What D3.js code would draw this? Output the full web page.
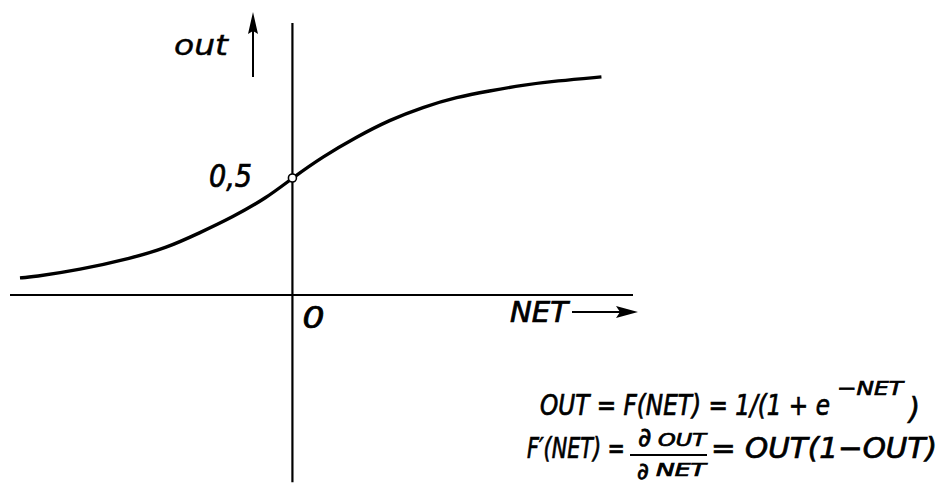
<!DOCTYPE html>
<html>
<head>
<meta charset="utf-8">
<script src="https://cdn.jsdelivr.net/npm/d3@7"></script>
<style>
  html, body { margin: 0; padding: 0; background: #fff; }
  svg { display: block; }
  text { font-family: "DejaVu Sans Condensed", "DejaVu Sans", sans-serif; font-style: italic; font-weight: normal; fill: #000; stroke: #000; stroke-width: 0.7px; }
</style>
</head>
<body>
<svg id="chart" width="949" height="485"></svg>
<script>
// ---- data ----
const netValues = [-3.28, -3.13, -2.57, -1.93, -1.52, -1.12, -0.72, -0.31, 0, 0.36, 0.77, 1.17, 1.57, 1.98, 2.37, 2.77, 3.18, 3.72];
const outValues = [0.073, 0.077, 0.107, 0.158, 0.201, 0.265, 0.333, 0.415, 0.5, 0.590, 0.675, 0.748, 0.803, 0.846, 0.872, 0.897, 0.915, 0.932];
const markedPoint = [0, 0.5];
const yTickLabels = ["0,5"];
const xTickLabels = ["0"];
const yAxisLabel = "out";
const xAxisLabel = "NET";
const netDomain = [-3.4, 4.1];
const outAxisExtent = [-0.8, 1.162];

const svg = d3.select("#chart");
const x = d3.scaleLinear().domain(netDomain).range([10, 633]);
const y = d3.scaleLinear().domain([0, 1]).range([295, 61]);

// axes
svg.append("line")
  .attr("x1", x(netDomain[0])).attr("x2", x(netDomain[1]))
  .attr("y1", y(0)).attr("y2", y(0))
  .attr("stroke", "#000").attr("stroke-width", 2.2);
svg.append("line")
  .attr("x1", x(0)).attr("x2", x(0))
  .attr("y1", y(outAxisExtent[0])).attr("y2", y(outAxisExtent[1]))
  .attr("stroke", "#000").attr("stroke-width", 2.2);

// curve
const pts = netValues.map((n, i) => [n, outValues[i]]);
const line = d3.line().x(d => x(d[0])).y(d => y(d[1])).curve(d3.curveBasis);
svg.append("path").datum(pts)
  .attr("d", line)
  .attr("fill", "none").attr("stroke", "#000").attr("stroke-width", 3.4)
  .attr("stroke-linecap", "butt");

// marked point
svg.append("circle")
  .attr("cx", x(markedPoint[0])).attr("cy", y(markedPoint[1]))
  .attr("r", 4).attr("fill", "#fff").attr("stroke", "#000").attr("stroke-width", 1.6);

// text helper: place text and squeeze it horizontally to a target width
function label(str, xx, yy, size, width) {
  const el = svg.append("text").text(str).attr("font-size", size).attr("x", 0).attr("y", 0);
  let sx = 1;
  if (width) {
    const w = el.node().getComputedTextLength();
    if (w > 0) sx = width / w;
  }
  el.attr("transform", `translate(${xx},${yy}) scale(${sx},1)`);
  return el;
}

// tick labels
label(yTickLabels[0], 209, y(0.5) + 9, 32, 43);
label(xTickLabels[0], x(0) + 10, 328, 30, 22);

// axis labels with arrows
label(yAxisLabel, 174, 55, 28, 54).style("stroke-width", "0.4px");
svg.append("line").attr("x1", 253).attr("x2", 253).attr("y1", 77).attr("y2", 28)
  .attr("stroke", "#000").attr("stroke-width", 2);
svg.append("path").attr("d", "M253,12 L248,34 L253,31 L258,34 Z").attr("fill", "#000");

label(xAxisLabel, 510, 322, 28, 58);
svg.append("line").attr("x1", 572).attr("x2", 620).attr("y1", 312).attr("y2", 312)
  .attr("stroke", "#000").attr("stroke-width", 2);
svg.append("path").attr("d", "M638,312 L616,306 L620,312 L616,318 Z").attr("fill", "#000");

// formulas
label("OUT = F(NET) = 1/(1 + e", 540, 415, 29, 290);
label("\u2212NET", 837, 395, 20, 66);
label(")", 909, 419, 31);
label("F\u2032(NET) =", 527, 458, 29, 98);
label("\u2202", 638, 446, 26).style("font-family", "DejaVu Sans");
label("OUT", 658, 446, 18, 48);
svg.append("line").attr("x1", 630).attr("x2", 707).attr("y1", 455).attr("y2", 455)
  .attr("stroke", "#000").attr("stroke-width", 1.8);
label("\u2202", 637, 479, 23).style("font-family", "DejaVu Sans");
label("NET", 656, 476, 17, 50);
label("= OUT(1\u2212OUT)", 711, 458, 29, 226);
</script>
</body>
</html>
